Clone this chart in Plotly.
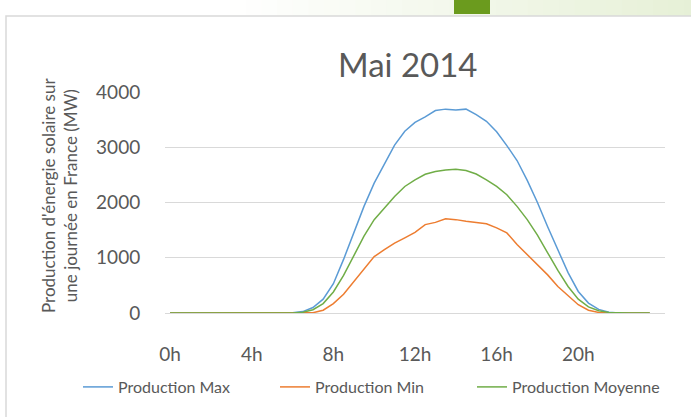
import plotly.graph_objects as go

# ---- data (half-hour slots, 0h .. 23h30) ----
slots = list(range(48))
tick_slots = [0, 8, 16, 24, 32, 40]
tick_labels = ["0h", "4h", "8h", "12h", "16h", "20h"]

prod_max = [0] * 12 + [5, 25, 100, 250, 530, 970, 1450, 1930, 2350, 2710, 3040, 3290,
                       3450, 3550, 3665, 3690, 3675, 3690, 3590, 3470, 3280, 3030, 2760, 2400,
                       2000, 1560, 1150, 730, 390, 180, 65, 15, 0, 0, 0, 0]
prod_min = [0] * 14 + [5, 50, 170, 340, 560, 800, 1020, 1145, 1265, 1360, 1460, 1600,
                       1640, 1705, 1690, 1660, 1640, 1615, 1540, 1450, 1240, 1055, 860, 690,
                       480, 310, 150, 50, 10, 0, 0, 0, 0, 0]
prod_moy = [0] * 13 + [15, 60, 170, 380, 680, 1050, 1390, 1690, 1910, 2110, 2290, 2410,
                       2510, 2560, 2590, 2600, 2580, 2515, 2410, 2290, 2140, 1930, 1690, 1410,
                       1090, 770, 480, 250, 110, 40, 10, 0, 0, 0, 0]

series_names = ["Production Max", "Production Min", "Production Moyenne"]
series_values = [prod_max, prod_min, prod_moy]
series_colors = ["#5B9BD5", "#ED7D31", "#70AD47"]

W, H = 691, 417
PW, PH = 500, 221
L, T = 165, 92
R, B = W - L - PW, H - T - PH

def px(x):  # window pixel -> paper
    return (x - L) / PW

def py(y):
    return (H - B - y) / PH

FONT = "Lato"
GREY = "#595959"

fig = go.Figure()
for name, vals, col in zip(series_names, series_values, series_colors):
    fig.add_trace(go.Scatter(x=slots, y=vals, mode="lines", name=name,
                             line=dict(color=col, width=1.5)))

shapes = []
# top decorative strip with a soft gradient
n = 30
x0s, x1s = 230, 700
c0 = (255, 255, 255)
c1 = (230, 240, 214)
for k in range(n):
    a = x0s + (x1s - x0s) * k / n
    b = x0s + (x1s - x0s) * (k + 1) / n
    t = (k + 0.5) / n
    c = tuple(int(round(c0[j] + (c1[j] - c0[j]) * t)) for j in range(3))
    shapes.append(dict(type="rect", xref="paper", yref="paper", x0=px(a), x1=px(b) + 0.002,
                       y0=py(16), y1=py(0), line=dict(width=0),
                       fillcolor="rgb(%d,%d,%d)" % c, layer="below"))
# green square
shapes.append(dict(type="rect", xref="paper", yref="paper", x0=px(454), x1=px(490),
                   y0=py(14), y1=py(0), line=dict(width=0), fillcolor="#6B9B1E", layer="below"))
# chart frame
shapes.append(dict(type="path", xref="paper", yref="paper",
                   path="M %f %f L %f %f L %f %f" % (px(6), py(430), px(6), py(16), px(700), py(16)),
                   line=dict(color="#D9D9D9", width=1.5), layer="below"))

annotations = [
    dict(text="Mai 2014", xref="paper", yref="paper", x=px(407), y=py(64),
         xanchor="center", yanchor="middle", showarrow=False,
         font=dict(family=FONT, size=33, color=GREY)),
    dict(text="Production d'énergie solaire sur<br>une journée en France (MW)",
         xref="paper", yref="paper", x=px(59), y=py(196), textangle=-90,
         xanchor="center", yanchor="middle", showarrow=False,
         font=dict(family=FONT, size=17, color=GREY)),
]

fig.update_layout(
    width=W, height=H,
    margin=dict(l=L, r=R, t=T, b=B, pad=0),
    paper_bgcolor="white", plot_bgcolor="white",
    shapes=shapes, annotations=annotations,
    showlegend=True,
    legend=dict(orientation="h", x=px(78), y=py(387), xanchor="left", yanchor="middle",
                font=dict(family=FONT, size=16, color=GREY),
                entrywidth=152, entrywidthmode="pixels", itemwidth=30,
                bgcolor="rgba(0,0,0,0)"),
    xaxis=dict(range=[-0.5, 48.5], tickmode="array", tickvals=tick_slots, ticktext=tick_labels,
               showgrid=False, zeroline=False, showline=False, automargin=False,
               ticks="outside", ticklen=24, tickcolor="rgba(0,0,0,0)",
               tickfont=dict(family=FONT, size=19, color=GREY), fixedrange=True),
    yaxis=dict(range=[0, 4000], tickmode="array", tickvals=[0, 1000, 2000, 3000, 4000],
               showgrid=True, gridcolor="#D9D9D9", gridwidth=1.3, automargin=False,
               zeroline=True, zerolinecolor="#D9D9D9", zerolinewidth=1.3, showline=False,
               ticks="outside", ticklen=20, tickcolor="rgba(0,0,0,0)",
               tickfont=dict(family=FONT, size=19, color=GREY), fixedrange=True),
)

fig.write_html("out.html", config={"displayModeBar": False},
               post_script="document.body.style.margin='0';document.body.style.overflow='hidden';")
